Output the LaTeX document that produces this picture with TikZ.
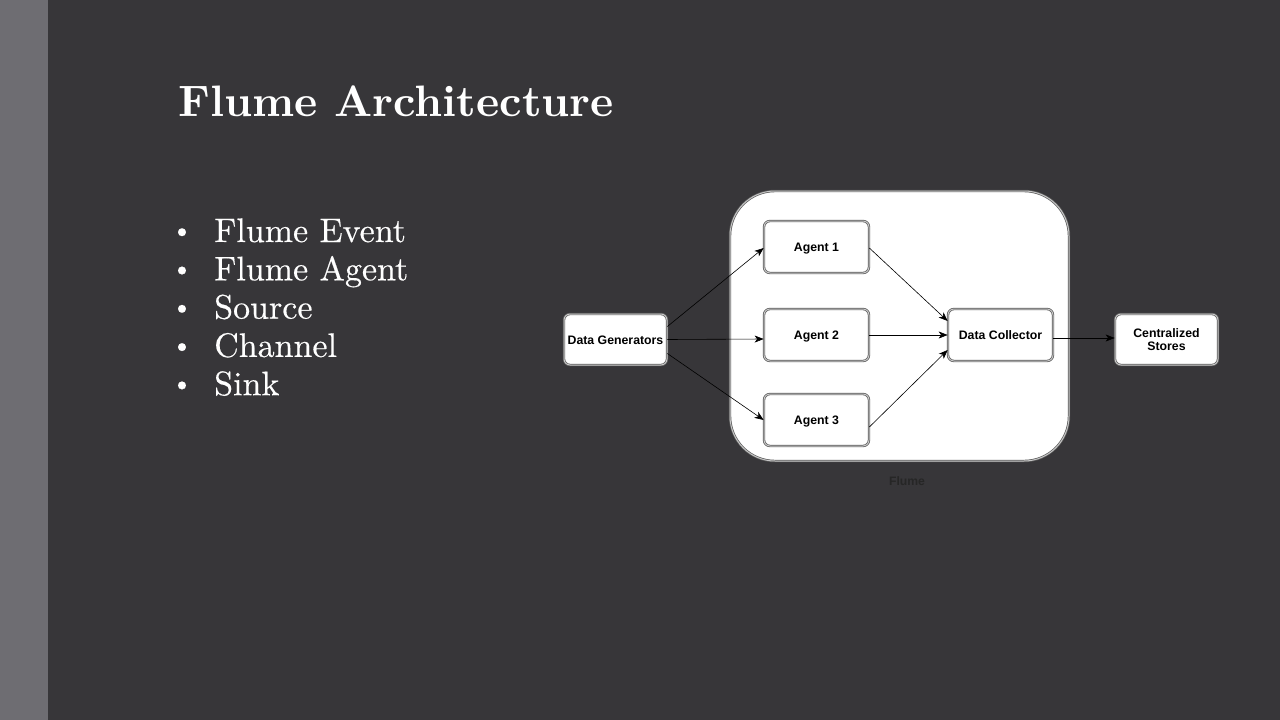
\documentclass[tikz,border=0pt]{standalone}
\usepackage{fontspec}
\newfontfamily\diag{Liberation Sans}
\newfontfamily\slide[FakeBold=0.4]{lmroman10-regular.otf}
\newfontfamily\slidebf{lmroman10-bold.otf}
\usetikzlibrary{arrows.meta}
\definecolor{bgdark}{HTML}{373639}
\definecolor{bgstrip}{HTML}{6E6D72}
\definecolor{edge}{HTML}{5A5A5A}
\tikzset{
  box/.style={draw=edge, line width=0.7pt, double=gray!45, double distance=1pt,
    fill=white, rounded corners=6pt, inner sep=1pt, align=center,
    font=\diag\bfseries\fontsize{12.3}{13.5}\selectfont},
  one/.style={text height=9pt, text depth=0pt},
  flow/.style={draw=black, line width=0.6pt, -{Stealth[length=9pt,width=7pt,inset=2.5pt]}},
  bul/.style={text=white, anchor=base west, inner sep=0pt, font=\slide\fontsize{34}{40}\selectfont},
  dot/.style={text=white, anchor=base, inner sep=0pt, font=\slide\fontsize{34}{40}\selectfont}
}
\begin{document}
\begin{tikzpicture}[x=1pt,y=-1pt]
\useasboundingbox (0,0) rectangle (1280,720);
\fill[bgdark] (0,0) rectangle (1280,720);
\fill[bgstrip] (0,0) rectangle (48,720);
% title
\node[text=white, anchor=base west, inner sep=0pt, font=\slidebf\fontsize{44}{52}\selectfont] (title) at (178,116.7) {Flume Architecture};
% bullets
\foreach \t [count=\i] in {Flume Event, Flume Agent, Source, Channel, Sink}{
  \node[bul] (b\i) at (214,{242+38.3*(\i-1)}) {\t};
  \node[dot] (d\i) at (182,{238.5+38.3*(\i-1)}) {\scalebox{0.8}{\textbullet}};
}
% container
\draw[draw=edge, line width=0.7pt, double=gray!45, double distance=1pt, fill=white, rounded corners=45pt] (730,191) rectangle (1069,461);
\node[text=black!85, font=\diag\bfseries\fontsize{12.2}{13}\selectfont] (flume) at (907,481) {Flume};
% nodes
\node[box, one, minimum width=103pt, minimum height=51pt] (dg) at (615.5,339.5) {Data Generators};
\node[box, one, minimum width=105pt, minimum height=52pt] (a1) at (816.5,247) {Agent 1};
\node[box, one, minimum width=105pt, minimum height=52pt] (a2) at (816.5,335) {Agent 2};
\node[box, one, minimum width=105pt, minimum height=52pt] (a3) at (816.5,420) {Agent 3};
\node[box, one, minimum width=105pt, minimum height=52pt] (dc) at (1000.5,335) {Data Collector};
\node[box, minimum width=103pt, minimum height=51pt] (cs) at (1166.5,339.5) {Centralized\\Stores};
% connectors
\draw[flow] ([yshift=13pt]dg.east) -- ([yshift=-1pt]a1.west);
\draw[flow] ([yshift=0pt]dg.east) -- ([yshift=-4pt]a2.west);
\draw[flow] ([yshift=-14pt]dg.east) -- ([yshift=0pt]a3.west);
\draw[flow] ([yshift=-1pt]a1.east) -- ([yshift=14pt]dc.west);
\draw[flow] (a2.east) -- (dc.west);
\draw[flow] ([yshift=-7pt]a3.east) -- ([yshift=-15pt]dc.west);
\draw[flow] ([yshift=-3pt]dc.east) -- ([yshift=1.5pt]cs.west);
\end{tikzpicture}
\end{document}
